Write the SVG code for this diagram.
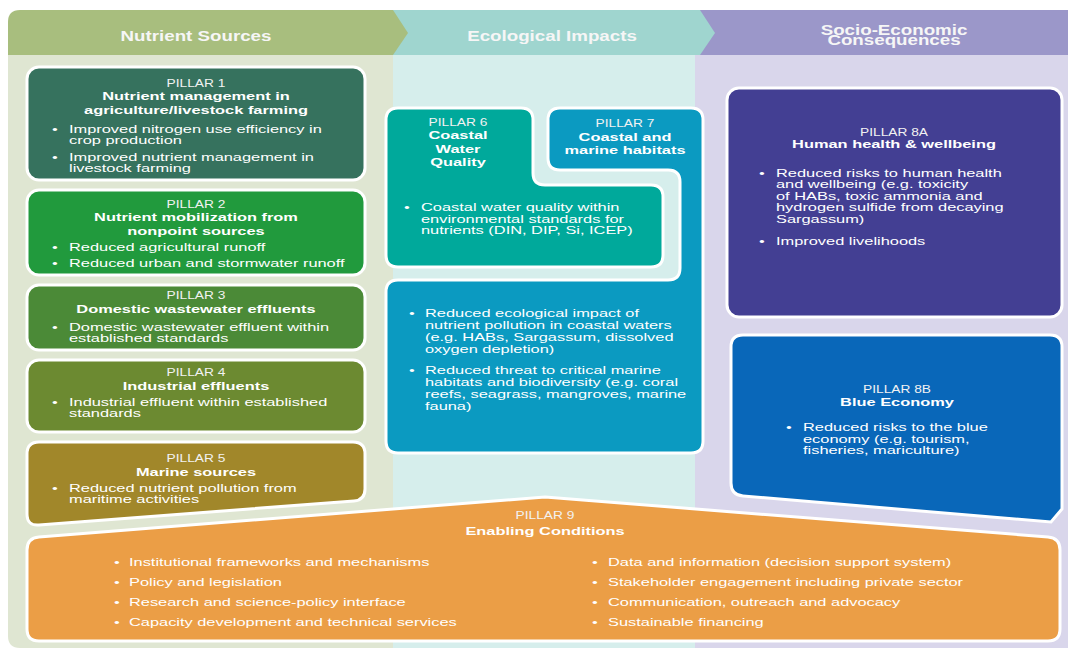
<svg xmlns="http://www.w3.org/2000/svg" width="1068" height="652" viewBox="0 0 1068 652">
<style>
text{font-family:"Liberation Sans",Arial,sans-serif;fill:#ffffff}
.hd{font-size:14.3px;font-weight:bold;fill:#f6f6f6}
.lb{font-size:10.5px;fill:#f2f2f2}
.tt{font-size:11.8px;font-weight:bold}
.bd{font-size:11.8px}
.pl{stroke:#ffffff;stroke-width:3}
</style>
<rect width="1068" height="652" fill="#ffffff"/>
<g id="columns">
<path d="M695,55 H1068 V648 H695 Z" fill="#d9d6eb"/>
<path d="M393,55 H695 V648 H393 Z" fill="#d6eeec"/>
<path d="M8,55 H393 V648 H20 Q8,648 8,636 Z" fill="#dfe6d2"/>
<path d="M700,10 H1068 V55 H700 Z" fill="#9b97c9"/>
<path d="M393,10 H700 L715,33 L700,55 H393 Z" fill="#9fd5cf"/>
<path d="M20,10 H393 L408,33 L393,55 H8 V22 Q8,10 20,10 Z" fill="#a8be7e"/>
<text class="hd" transform="matrix(1.31 0 0 1 196 0)" y="41" text-anchor="middle">Nutrient Sources</text>
<text class="hd" transform="matrix(1.31 0 0 1 552 0)" y="41" text-anchor="middle">Ecological Impacts</text>
<text class="hd" transform="matrix(1.31 0 0 1 894 0)" text-anchor="middle"><tspan x="0" y="35">Socio-Economic</tspan><tspan x="0" y="45">Consequences</tspan></text>
</g>
<g id="connectors"></g>
<g id="p1">
<rect class="pl" x="27" y="67" width="338" height="113" rx="12" fill="#36725e"/>
<text class="lb" transform="matrix(1.31 0 0 1 196 0)" y="87" text-anchor="middle">PILLAR 1</text>
<text class="tt" transform="matrix(1.39 0 0 1 196 0)" text-anchor="middle"><tspan x="0" y="100">Nutrient management in</tspan><tspan x="0" y="114">agriculture/livestock farming</tspan></text>
<text class="bd" transform="matrix(1.39 0 0 1 52 0)"><tspan x="0" y="133">•</tspan><tspan x="0" y="161">•</tspan></text>
<text class="bd" transform="matrix(1.39 0 0 1 69 0)"><tspan x="0" y="133">Improved nitrogen use efficiency in</tspan><tspan x="0" y="144">crop production</tspan><tspan x="0" y="161">Improved nutrient management in</tspan><tspan x="0" y="172">livestock farming</tspan></text>
</g>
<g id="p2">
<rect class="pl" x="27" y="190" width="338" height="85" rx="12" fill="#219a3d"/>
<text class="lb" transform="matrix(1.31 0 0 1 196 0)" y="208" text-anchor="middle">PILLAR 2</text>
<text class="tt" transform="matrix(1.39 0 0 1 196 0)" text-anchor="middle"><tspan x="0" y="221">Nutrient mobilization from</tspan><tspan x="0" y="235">nonpoint sources</tspan></text>
<text class="bd" transform="matrix(1.39 0 0 1 52 0)"><tspan x="0" y="251">•</tspan><tspan x="0" y="267">•</tspan></text>
<text class="bd" transform="matrix(1.39 0 0 1 69 0)"><tspan x="0" y="251">Reduced agricultural runoff</tspan><tspan x="0" y="267">Reduced urban and stormwater runoff</tspan></text>
</g>
<g id="p3">
<rect class="pl" x="27" y="285" width="338" height="65" rx="12" fill="#4b8a37"/>
<text class="lb" transform="matrix(1.31 0 0 1 196 0)" y="299" text-anchor="middle">PILLAR 3</text>
<text class="tt" transform="matrix(1.39 0 0 1 196 0)" y="313" text-anchor="middle">Domestic wastewater effluents</text>
<text class="bd" transform="matrix(1.39 0 0 1 52 0)" y="331">•</text>
<text class="bd" transform="matrix(1.39 0 0 1 69 0)"><tspan x="0" y="331">Domestic wastewater effluent within</tspan><tspan x="0" y="342">established standards</tspan></text>
</g>
<g id="p4">
<rect class="pl" x="27" y="360" width="338" height="72" rx="12" fill="#6c8a31"/>
<text class="lb" transform="matrix(1.31 0 0 1 196 0)" y="376" text-anchor="middle">PILLAR 4</text>
<text class="tt" transform="matrix(1.39 0 0 1 196 0)" y="390" text-anchor="middle">Industrial effluents</text>
<text class="bd" transform="matrix(1.39 0 0 1 52 0)" y="406">•</text>
<text class="bd" transform="matrix(1.39 0 0 1 69 0)"><tspan x="0" y="406">Industrial effluent within established</tspan><tspan x="0" y="417">standards</tspan></text>
</g>
<g id="p5">
<path class="pl" d="M39,442 H353 Q365,442 365,454 V489 Q365,500 354,501 L39,525 Q27,526 27,514 V454 Q27,442 39,442 Z" fill="#a1872a"/>
<text class="lb" transform="matrix(1.31 0 0 1 196 0)" y="462" text-anchor="middle">PILLAR 5</text>
<text class="tt" transform="matrix(1.39 0 0 1 196 0)" y="476" text-anchor="middle">Marine sources</text>
<text class="bd" transform="matrix(1.39 0 0 1 52 0)" y="492">•</text>
<text class="bd" transform="matrix(1.39 0 0 1 69 0)"><tspan x="0" y="492">Reduced nutrient pollution from</tspan><tspan x="0" y="503">maritime activities</tspan></text>
</g>
<g id="p7">
<path class="pl" d="M560,108 H691 Q703,108 703,120 V441 Q703,453 691,453 H398 Q386,453 386,441 V292 Q386,280 398,280 H668 Q680,280 680,268 V182 Q680,170 668,170 H560 Q548,170 548,158 V120 Q548,108 560,108 Z" fill="#0b9ac1"/>
<text class="lb" transform="matrix(1.31 0 0 1 625 0)" y="127" text-anchor="middle">PILLAR 7</text>
<text class="tt" transform="matrix(1.39 0 0 1 625 0)" text-anchor="middle"><tspan x="0" y="141">Coastal and</tspan><tspan x="0" y="154">marine habitats</tspan></text>
<text class="bd" transform="matrix(1.39 0 0 1 409 0)"><tspan x="0" y="317">•</tspan><tspan x="0" y="374">•</tspan></text>
<text class="bd" transform="matrix(1.39 0 0 1 425 0)"><tspan x="0" y="317">Reduced ecological impact of</tspan><tspan x="0" y="329">nutrient pollution in coastal waters</tspan><tspan x="0" y="341">(e.g. HABs, Sargassum, dissolved</tspan><tspan x="0" y="353">oxygen depletion)</tspan><tspan x="0" y="374">Reduced threat to critical marine</tspan><tspan x="0" y="386">habitats and biodiversity (e.g. coral</tspan><tspan x="0" y="398">reefs, seagrass, mangroves, marine</tspan><tspan x="0" y="410">fauna)</tspan></text>
</g>
<g id="p6">
<path class="pl" d="M398,108 H521 Q533,108 533,120 V173 Q533,185 545,185 H651 Q663,185 663,197 V255 Q663,267 651,267 H398 Q386,267 386,255 V120 Q386,108 398,108 Z" fill="#00a99b"/>
<text class="lb" transform="matrix(1.31 0 0 1 458 0)" y="126" text-anchor="middle">PILLAR 6</text>
<text class="tt" transform="matrix(1.39 0 0 1 458 0)" text-anchor="middle"><tspan x="0" y="139">Coastal</tspan><tspan x="0" y="153">Water</tspan><tspan x="0" y="166">Quality</tspan></text>
<text class="bd" transform="matrix(1.39 0 0 1 404 0)" y="211">•</text>
<text class="bd" transform="matrix(1.39 0 0 1 421 0)"><tspan x="0" y="211">Coastal water quality within</tspan><tspan x="0" y="223">environmental standards for</tspan><tspan x="0" y="234">nutrients (DIN, DIP, Si, ICEP)</tspan></text>
</g>
<g id="p8a">
<rect class="pl" x="727" y="88" width="335" height="229" rx="12" fill="#433f93"/>
<text class="lb" transform="matrix(1.31 0 0 1 894 0)" y="136" text-anchor="middle">PILLAR 8A</text>
<text class="tt" transform="matrix(1.39 0 0 1 894 0)" y="148" text-anchor="middle">Human health &amp; wellbeing</text>
<text class="bd" transform="matrix(1.39 0 0 1 759 0)"><tspan x="0" y="177">•</tspan><tspan x="0" y="245">•</tspan></text>
<text class="bd" transform="matrix(1.39 0 0 1 776 0)"><tspan x="0" y="177">Reduced risks to human health</tspan><tspan x="0" y="188">and wellbeing (e.g. toxicity</tspan><tspan x="0" y="200">of HABs, toxic ammonia and</tspan><tspan x="0" y="211">hydrogen sulfide from decaying</tspan><tspan x="0" y="223">Sargassum)</tspan><tspan x="0" y="245">Improved livelihoods</tspan></text>
</g>
<g id="p8b">
<path class="pl" d="M743,335 H1050 Q1062,335 1062,347 V509 L1051,522 L743,496 Q731,495 731,483 V347 Q731,335 743,335 Z" fill="#0967b9"/>
<text class="lb" transform="matrix(1.31 0 0 1 897 0)" y="393" text-anchor="middle">PILLAR 8B</text>
<text class="tt" transform="matrix(1.39 0 0 1 897 0)" y="406" text-anchor="middle">Blue Economy</text>
<text class="bd" transform="matrix(1.39 0 0 1 786 0)" y="431">•</text>
<text class="bd" transform="matrix(1.39 0 0 1 803 0)"><tspan x="0" y="431">Reduced risks to the blue</tspan><tspan x="0" y="443">economy (e.g. tourism,</tspan><tspan x="0" y="454">fisheries, mariculture)</tspan></text>
</g>
<g id="p9">
<path class="pl" d="M545,497 L1048,537 Q1060,538 1060,550 V629 Q1060,641 1048,641 H39 Q27,641 27,629 V550 Q27,538 39,537 Z" fill="#eb9e46"/>
<text class="lb" transform="matrix(1.31 0 0 1 545 0)" y="519" text-anchor="middle">PILLAR 9</text>
<text class="tt" transform="matrix(1.39 0 0 1 545 0)" y="535" text-anchor="middle">Enabling Conditions</text>
<text class="bd" transform="matrix(1.39 0 0 1 114 0)"><tspan x="0" y="566">•</tspan><tspan x="0" y="586">•</tspan><tspan x="0" y="606">•</tspan><tspan x="0" y="626">•</tspan></text>
<text class="bd" transform="matrix(1.39 0 0 1 129 0)"><tspan x="0" y="566">Institutional frameworks and mechanisms</tspan><tspan x="0" y="586">Policy and legislation</tspan><tspan x="0" y="606">Research and science-policy interface</tspan><tspan x="0" y="626">Capacity development and technical services</tspan></text>
<text class="bd" transform="matrix(1.39 0 0 1 592 0)"><tspan x="0" y="566">•</tspan><tspan x="0" y="586">•</tspan><tspan x="0" y="606">•</tspan><tspan x="0" y="626">•</tspan></text>
<text class="bd" transform="matrix(1.39 0 0 1 608 0)"><tspan x="0" y="566">Data and information (decision support system)</tspan><tspan x="0" y="586">Stakeholder engagement including private sector</tspan><tspan x="0" y="606">Communication, outreach and advocacy</tspan><tspan x="0" y="626">Sustainable financing</tspan></text>
</g>
</svg>
